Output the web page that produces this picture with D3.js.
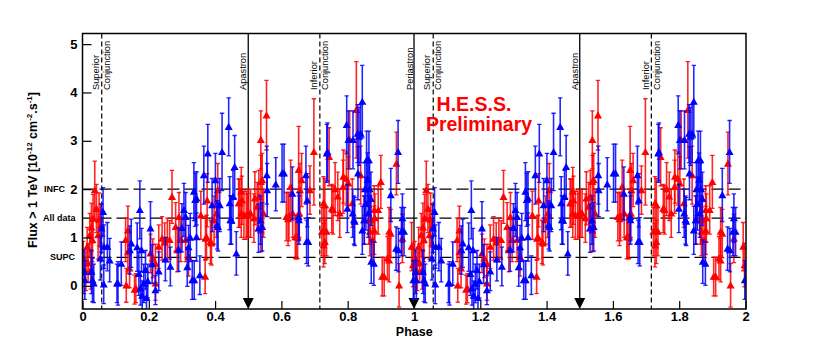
<!DOCTYPE html>
<html>
<head>
<meta charset="utf-8">
<script src="https://cdn.jsdelivr.net/npm/d3@7"></script>
<style>
  body { margin: 0; background: #fff; }
  svg { display: block; font-family: "Liberation Sans", Arial, sans-serif; }
</style>
</head>
<body>
<script>
"use strict"

/* one orbit of folded data: [phase, flux, error]; drawn twice (phase and phase + 1) */
const redPoints = [
  [0.002, 0.57, 0.35], [0.010, 0.30, 0.40], [0.014, 0.81, 0.40], [0.017, 0.47, 0.40],
  [0.022, 1.05, 0.45], [0.025, 0.33, 0.40], [0.027, 1.21, 0.50], [0.030, 0.95, 0.45],
  [0.032, 1.39, 0.50], [0.037, 1.98, 0.60], [0.042, 1.60, 0.50], [0.047, 1.05, 0.50],
  [0.050, 1.37, 0.55], [0.055, 1.25, 0.45], [0.130, 0.95, 0.45], [0.132, 0.01, 0.35],
  [0.137, 0.70, 0.45], [0.137, 1.15, 0.50], [0.142, 0.36, 0.40], [0.157, -0.08, 0.30],
  [0.161, -0.05, 0.30], [0.205, 0.67, 0.40], [0.212, 0.57, 0.40], [0.220, 0.46, 0.40],
  [0.220, 0.05, 0.35], [0.230, 0.81, 0.45], [0.240, 0.98, 0.45], [0.248, 0.90, 0.40],
  [0.256, 0.95, 0.45], [0.263, 0.95, 0.40], [0.270, 1.84, 0.55], [0.281, 1.22, 0.50],
  [0.286, 0.74, 0.45], [0.291, 1.43, 0.50], [0.296, 0.95, 0.45], [0.311, 0.95, 0.45],
  [0.320, 0.60, 0.40], [0.357, 1.46, 0.50], [0.370, 0.19, 0.35], [0.371, 0.98, 0.45],
  [0.374, 1.01, 0.45], [0.376, 1.77, 0.55], [0.386, 0.91, 0.45], [0.389, 0.88, 0.45],
  [0.397, 1.36, 0.50], [0.404, 1.50, 0.50], [0.408, 1.98, 0.55], [0.471, 1.71, 0.50],
  [0.474, 1.71, 0.50], [0.479, 1.95, 0.50], [0.479, 1.50, 0.50], [0.481, 1.77, 0.50],
  [0.487, 1.46, 0.50], [0.494, 1.46, 0.50], [0.498, 1.46, 0.45], [0.501, 1.50, 0.50],
  [0.507, 1.50, 0.50], [0.517, 1.40, 0.50], [0.520, 1.81, 0.55], [0.527, 1.64, 0.50],
  [0.532, 1.84, 0.55], [0.538, 2.15, 0.55], [0.538, 3.02, 0.60], [0.538, 1.15, 0.45],
  [0.542, 2.19, 0.55], [0.546, 1.50, 0.50], [0.555, 3.53, 0.72], [0.615, 1.43, 0.50],
  [0.620, 1.38, 0.55], [0.623, 1.43, 0.50], [0.628, 2.05, 0.55], [0.634, 1.50, 0.50],
  [0.642, 1.01, 0.45], [0.645, 1.01, 0.45], [0.649, 1.01, 0.45], [0.652, 2.40, 0.90],
  [0.654, 1.50, 0.50], [0.656, 1.98, 0.55], [0.661, 2.19, 0.55], [0.686, 1.98, 0.50],
  [0.698, 2.77, 1.10], [0.722, 1.12, 0.50], [0.727, 0.84, 0.45], [0.727, 1.71, 0.55],
  [0.731, 0.91, 0.45], [0.731, 1.67, 0.55], [0.736, 1.12, 0.50], [0.744, 2.67, 0.60],
  [0.752, 1.60, 0.50], [0.756, 1.57, 0.50], [0.762, 2.00, 0.55], [0.770, 1.85, 0.50],
  [0.776, 1.50, 0.50], [0.786, 2.05, 0.55], [0.787, 2.26, 0.55], [0.796, 2.22, 0.55],
  [0.802, 2.12, 0.55], [0.806, 3.02, 0.60], [0.814, 1.71, 0.50], [0.826, 3.64, 1.00],
  [0.839, 2.29, 0.60], [0.850, 1.36, 0.50], [0.864, 1.36, 0.50], [0.867, 1.12, 0.50],
  [0.869, 1.36, 0.50], [0.875, 0.95, 0.45], [0.880, 1.15, 0.50], [0.880, 1.57, 0.50],
  [0.882, 1.40, 0.50], [0.892, 1.57, 0.50], [0.900, 2.15, 0.55], [0.904, 0.19, 0.40],
  [0.910, 0.19, 0.40], [0.920, 0.57, 0.45], [0.925, 1.12, 0.50], [0.925, 0.53, 0.45],
  [0.930, 1.08, 0.50], [0.947, 2.53, 0.65], [0.955, 0.01, 0.45], [0.965, 0.98, 0.50],
  [0.993, 0.81, 0.50], [0.997, 0.43, 0.45]
];

const bluePoints = [
  [0.005, 0.29, 0.45], [0.007, 0.12, 0.40], [0.027, 0.29, 0.45], [0.030, 0.12, 0.45],
  [0.034, 0.05, 0.40], [0.054, 0.57, 0.45], [0.057, 1.19, 0.50], [0.062, 1.53, 0.50],
  [0.064, 0.03, 0.40], [0.065, 0.81, 0.45], [0.075, 0.81, 0.50], [0.082, 0.53, 0.45],
  [0.104, 0.05, 0.40], [0.107, 0.05, 0.45], [0.117, 0.46, 0.45], [0.143, 0.74, 0.50],
  [0.147, 0.88, 0.50], [0.165, 0.80, 0.50], [0.170, 0.25, 0.45], [0.173, 1.57, 0.60],
  [0.175, -0.05, 0.35], [0.178, 0.74, 0.45], [0.180, -0.20, 0.30], [0.185, 0.05, 0.40],
  [0.190, 0.33, 0.40], [0.193, -0.25, 0.25], [0.197, 0.10, 0.35], [0.205, 1.19, 0.55],
  [0.210, 0.45, 0.40], [0.220, -0.09, 0.30], [0.230, 0.30, 0.40], [0.250, 0.55, 0.45],
  [0.265, 0.40, 0.40], [0.290, 0.75, 0.45], [0.300, 1.20, 0.50], [0.306, 1.57, 0.55],
  [0.311, 1.43, 0.50], [0.316, 0.39, 0.40], [0.320, 0.80, 0.45], [0.325, 1.00, 0.50],
  [0.331, 0.12, 0.40], [0.336, 1.95, 0.60], [0.337, 0.12, 0.40], [0.340, 1.78, 0.55],
  [0.344, 1.81, 0.55], [0.344, 1.01, 0.50], [0.354, 0.22, 0.40], [0.366, 2.29, 0.60],
  [0.378, 2.74, 0.60], [0.391, 1.67, 0.55], [0.401, 2.19, 0.55], [0.406, 1.26, 0.50],
  [0.409, 1.22, 0.50], [0.414, 1.67, 0.55], [0.421, 2.77, 0.80], [0.441, 3.29, 0.60],
  [0.444, 1.71, 0.55], [0.446, 1.36, 0.50], [0.449, 1.36, 0.50], [0.454, 1.84, 0.55],
  [0.459, 2.46, 0.65], [0.464, 0.67, 0.45], [0.531, 1.19, 0.50], [0.537, 1.36, 0.50],
  [0.542, 1.22, 0.50], [0.556, 2.29, 0.60], [0.557, 1.98, 0.55], [0.583, 2.10, 0.55],
  [0.602, 2.33, 0.60], [0.608, 2.33, 0.60], [0.633, 1.91, 0.55], [0.652, 1.43, 0.50],
  [0.653, 1.36, 0.50], [0.674, 2.29, 0.60], [0.676, 0.91, 0.45], [0.678, 1.77, 0.55],
  [0.681, 0.91, 0.50], [0.737, 2.74, 0.60], [0.739, 2.77, 0.60], [0.797, 3.33, 0.60],
  [0.799, 1.60, 0.50], [0.802, 3.02, 0.60], [0.815, 1.50, 0.50], [0.816, 3.02, 0.60],
  [0.819, 1.36, 0.50], [0.821, 1.33, 0.50], [0.830, 3.15, 0.60], [0.831, 2.33, 0.55],
  [0.834, 3.09, 0.60], [0.839, 3.15, 0.60], [0.844, 3.81, 0.75], [0.844, 1.15, 0.50],
  [0.850, 1.36, 0.50], [0.852, 2.00, 0.55], [0.855, 1.70, 0.55], [0.857, 2.60, 0.60],
  [0.860, 2.20, 0.55], [0.862, 1.50, 0.50], [0.864, 2.60, 0.60], [0.866, 2.00, 0.55],
  [0.870, 1.80, 0.55], [0.871, 0.50, 0.45], [0.879, 0.46, 0.45], [0.930, 1.88, 0.55],
  [0.946, 0.77, 0.45], [0.952, 2.77, 0.65], [0.953, 0.74, 0.45], [0.962, 1.12, 0.50],
  [0.965, 1.40, 0.50], [0.970, 1.12, 0.50], [0.998, 0.12, 0.40]
];

const xTicks = [0, 0.2, 0.4, 0.6, 0.8, 1, 1.2, 1.4, 1.6, 1.8, 2];
const yTicks = [0, 1, 2, 3, 4, 5];

/* horizontal reference levels (mean flux) */
const levelNames = ["INFC", "All data", "SUPC"];
const levelValues = [2.0, 1.4, 0.59];

/* orbital markers */
const periastronPhases = [0, 1, 2];
const apastronPhases = [0.5, 1.5];
const supConjPhases = [0.058, 1.058];
const infConjPhases = [0.716, 1.716];

/* frame in pixels */
const frame = { left: 82.5, right: 746, top: 33.5, bottom: 309 };

const x = d3.scaleLinear().domain([0, 2]).range([frame.left, frame.right - 0.5]);
const y = d3.scaleLinear().domain([-0.48, 5.22]).range([frame.bottom, frame.top]);

const svg = d3.select("body").append("svg")
  .attr("width", 830).attr("height", 344);

svg.append("clipPath").attr("id", "area")
  .append("rect")
  .attr("x", frame.left).attr("y", frame.top)
  .attr("width", frame.right - frame.left)
  .attr("height", frame.bottom - frame.top);

/* reference levels, long dashes */
svg.append("g").selectAll("line")
  .data(levelValues).enter().append("line")
  .attr("x1", frame.left).attr("x2", frame.right)
  .attr("y1", d => y(d)).attr("y2", d => y(d))
  .attr("stroke", "#000").attr("stroke-width", 1.3)
  .attr("stroke-dasharray", "12,5");

svg.append("g").selectAll("text")
  .data(levelNames).enter().append("text")
  .attr("x", (d, i) => [44, 43, 50][i])
  .attr("y", (d, i) => y(levelValues[i]))
  .attr("dominant-baseline", "middle")
  .attr("font-size", "9px").attr("font-weight", "bold")
  .text(d => d);

/* conjunctions: short dashes */
svg.append("g").selectAll("line")
  .data(supConjPhases.concat(infConjPhases)).enter().append("line")
  .attr("x1", d => x(d)).attr("x2", d => x(d))
  .attr("y1", frame.top).attr("y2", frame.bottom)
  .attr("stroke", "#000").attr("stroke-width", 1.2)
  .attr("stroke-dasharray", "5,3");

/* apastron / periastron: solid lines ending in an arrow head */
const arrowPhases = [0.5, 1, 1.5];
svg.append("g").selectAll("line")
  .data(arrowPhases).enter().append("line")
  .attr("x1", d => x(d)).attr("x2", d => x(d))
  .attr("y1", frame.top).attr("y2", frame.bottom - 8)
  .attr("stroke", "#000").attr("stroke-width", 1.3);
svg.append("g").selectAll("path")
  .data(arrowPhases).enter().append("path")
  .attr("d", d => `M${x(d) - 5.5},${frame.bottom - 11} L${x(d) + 5.5},${frame.bottom - 11} L${x(d)},${frame.bottom} Z`)
  .attr("fill", "#000");

/* rotated labels next to the lines */
function vlabel(phase, dx, txt) {
  svg.append("text")
    .attr("transform", `translate(${x(phase) + dx},90) rotate(-90)`)
    .attr("font-size", "9.3px")
    .text(txt);
}
supConjPhases.forEach(p => { vlabel(p, -3.2, "Superior"); vlabel(p, 7.8, "Conjunction"); });
infConjPhases.forEach(p => { vlabel(p, -2.5, "Inferior"); vlabel(p, 8.3, "Conjunction"); });
apastronPhases.forEach(p => vlabel(p, -2, "Apastron"));
vlabel(periastronPhases[1], -1.5, "Periastron");

/* data: error bars then triangles, both orbits */
const tri = "M-4,3.2 L4,3.2 L0,-4 Z";
function drawSeries(points, colour) {
  const twice = points.concat(points.map(p => [p[0] + 1, p[1], p[2]]));
  const g = svg.append("g").attr("clip-path", "url(#area)");
  const pts = g.selectAll("g").data(twice).enter().append("g");
  pts.append("line")
    .attr("x1", d => x(d[0])).attr("x2", d => x(d[0]))
    .attr("y1", d => y(d[1] - d[2])).attr("y2", d => y(d[1] + d[2]))
    .attr("stroke", colour).attr("stroke-width", 1.6).attr("stroke-opacity", 0.85);
  pts.selectAll(".cap")
    .data(d => [[d[0], d[1] - d[2]], [d[0], d[1] + d[2]]]).enter().append("line")
    .attr("x1", d => x(d[0]) - 2.2).attr("x2", d => x(d[0]) + 2.2)
    .attr("y1", d => y(d[1])).attr("y2", d => y(d[1]))
    .attr("stroke", colour).attr("stroke-width", 1.3).attr("stroke-opacity", 0.85);
  pts.append("path")
    .attr("d", tri)
    .attr("transform", d => `translate(${x(d[0])},${y(d[1])})`)
    .attr("fill", colour);
}
drawSeries(redPoints, "#ff0000");
drawSeries(bluePoints, "#0000ff");

/* H.E.S.S. watermark */
svg.append("text").attr("x", 474).attr("y", 111)
  .attr("text-anchor", "middle").attr("font-size", "19.5px").attr("font-weight", "bold")
  .attr("fill", "#ff0000").text("H.E.S.S.");
svg.append("text").attr("x", 479).attr("y", 131)
  .attr("text-anchor", "middle").attr("font-size", "19.5px").attr("font-weight", "bold")
  .attr("fill", "#ff0000").text("Preliminary");

/* axes */
const xMinor = d3.range(0, 2.001, 0.05);
const yMinor = d3.range(-0.4, 5.21, 0.2);

const gx = svg.append("g").attr("transform", `translate(0,${frame.bottom})`);
gx.call(d3.axisBottom(x).tickValues(xMinor).tickSize(-4).tickFormat(""));
gx.call(d3.axisBottom(x).tickValues(xTicks).tickSizeInner(-8).tickSizeOuter(0)
  .tickPadding(3).tickFormat(d3.format("")));

const gy = svg.append("g").attr("transform", `translate(${frame.left},0)`);
gy.call(d3.axisLeft(y).tickValues(yMinor).tickSize(-5).tickFormat(""));
gy.call(d3.axisLeft(y).tickValues(yTicks).tickSizeInner(-9).tickSizeOuter(0)
  .tickPadding(5).tickFormat(d3.format("d")));

svg.selectAll(".domain").remove();
svg.selectAll(".tick line").attr("stroke", "#000").attr("stroke-width", 1.2);
svg.selectAll(".tick text").attr("font-size", "13px").attr("font-weight", "bold")
  .attr("font-family", "Liberation Sans, Arial, sans-serif").attr("fill", "#000");

/* frame */
svg.append("rect")
  .attr("x", frame.left).attr("y", frame.top)
  .attr("width", frame.right - frame.left).attr("height", frame.bottom - frame.top)
  .attr("fill", "none").attr("stroke", "#000").attr("stroke-width", 1.5);

/* titles */
svg.append("text").attr("x", (frame.left + frame.right) / 2).attr("y", 336)
  .attr("text-anchor", "middle").attr("font-size", "12.5px").attr("font-weight", "bold")
  .text("Phase");

const yt = svg.append("text")
  .attr("transform", "translate(37,92) rotate(-90)")
  .attr("text-anchor", "end").attr("font-size", "12.5px").attr("font-weight", "bold");
yt.append("tspan").text("Flux > 1 TeV [10");
yt.append("tspan").attr("font-size", "8px").attr("dy", -5).text("-12");
yt.append("tspan").attr("dy", 5).text(" cm");
yt.append("tspan").attr("font-size", "8px").attr("dy", -5).text("-2");
yt.append("tspan").attr("dy", 5).text(".s");
yt.append("tspan").attr("font-size", "8px").attr("dy", -5).text("-1");
yt.append("tspan").attr("dy", 5).text("]");
</script>
</body>
</html>
